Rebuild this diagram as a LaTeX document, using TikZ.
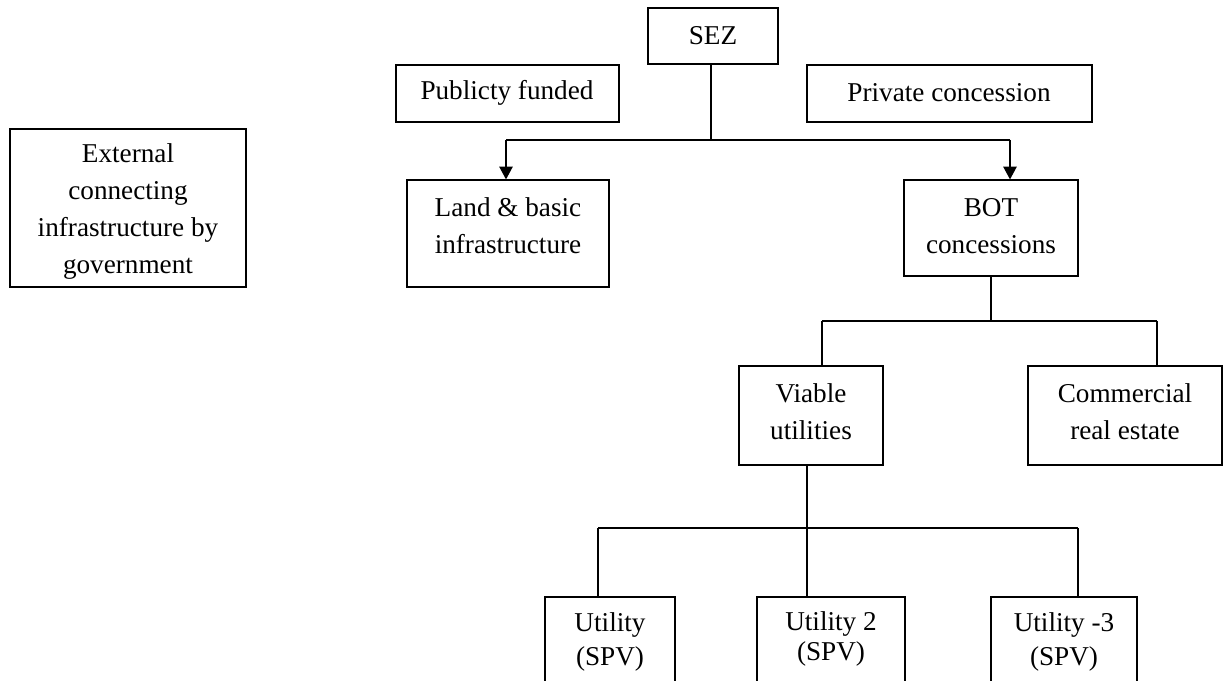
\documentclass[tikz,border=0pt]{standalone}
\usepackage{fontspec}
\setmainfont{Liberation Serif}
\usetikzlibrary{fit,arrows.meta}
\tikzset{
  box/.style={draw=black, line width=0.9pt, inner sep=0pt, fill=none},
  txt/.style={align=center, inner sep=0pt, font=\fontsize{20.4}{27.75}\selectfont},
  conn/.style={draw=black, line width=0.9pt},
  arr/.style={conn, -{Triangle[length=9.5pt,width=10pt]}}
}
\begin{document}
\begin{tikzpicture}[x=0.75pt,y=-0.75pt]
\useasboundingbox (0,0) rectangle (1224,681);
\clip (0,0) rectangle (1224,681);
% boxes
\node[box, fit={(648,8) (778,64)}] (sez) {};
\node[box, fit={(396,65) (619,122)}] (pub) {};
\node[box, fit={(807,65) (1092,122)}] (priv) {};
\node[box, fit={(10,129) (246,287)}] (ext) {};
\node[box, fit={(407,180) (609,287)}] (land) {};
\node[box, fit={(904,180) (1078,276)}] (bot) {};
\node[box, fit={(739,366) (883,465)}] (viab) {};
\node[box, fit={(1028,366) (1222,465)}] (comm) {};
\node[box, fit={(545,597) (675,730)}] (u1) {};
\node[box, fit={(757,597) (905,730)}] (u2) {};
\node[box, fit={(991,597) (1137,730)}] (u3) {};
% texts
\node[txt] (sezt) at (713,36) {SEZ};
\node[txt] (pubt) at (507,93) {Publicty funded};
\node[txt] (privt) at (949,93) {Private concession};
\node[txt] (extt) at (128,211) {External\\connecting\\infrastructure by\\government};
\node[txt] (landt) at (508,226) {Land \& basic\\infrastructure};
\node[txt] (bott) at (991,226) {BOT\\concessions};
\node[txt] (viabt) at (811,412) {Viable\\utilities};
\node[txt] (commt) at (1125,412) {Commercial\\real estate};
\node[txt, font=\fontsize{20.4}{25.5}\selectfont] (u1t) at (610,642) {Utility\\(SPV)};
\node[txt, font=\fontsize{20.4}{22.5}\selectfont] (u2t) at (831,639) {Utility 2\\(SPV)};
\node[txt, font=\fontsize{20.4}{25.5}\selectfont] (u3t) at (1064,642) {Utility -3\\(SPV)};
% junction coordinates
\coordinate (s1) at (711,140);
\coordinate (jL) at (506,140);
\coordinate (jR) at (1010,140);
\coordinate (b1) at (991,321);
\coordinate (bL) at (822,321);
\coordinate (bR) at (1157,321);
\coordinate (v1) at (807,528);
\coordinate (vL) at (598,528);
\coordinate (vR) at (1078,528);
% connectors
\draw[conn] (sez.south -| s1) -- (s1);
\draw[conn] (jL) -- (jR);
\draw[arr] (jL) -- (jL |- land.north);
\draw[arr] (jR) -- (jR |- bot.north);
\draw[conn] (bot.south -| b1) -- (b1);
\draw[conn] (bL) -- (bR);
\draw[conn] (bL) -- (bL |- viab.north);
\draw[conn] (bR) -- (bR |- comm.north);
\draw[conn] (viab.south -| v1) -- (v1);
\draw[conn] (vL) -- (vR);
\draw[conn] (vL) -- (vL |- u1.north);
\draw[conn] (v1) -- (v1 |- u2.north);
\draw[conn] (vR) -- (vR |- u3.north);
\end{tikzpicture}
\end{document}
